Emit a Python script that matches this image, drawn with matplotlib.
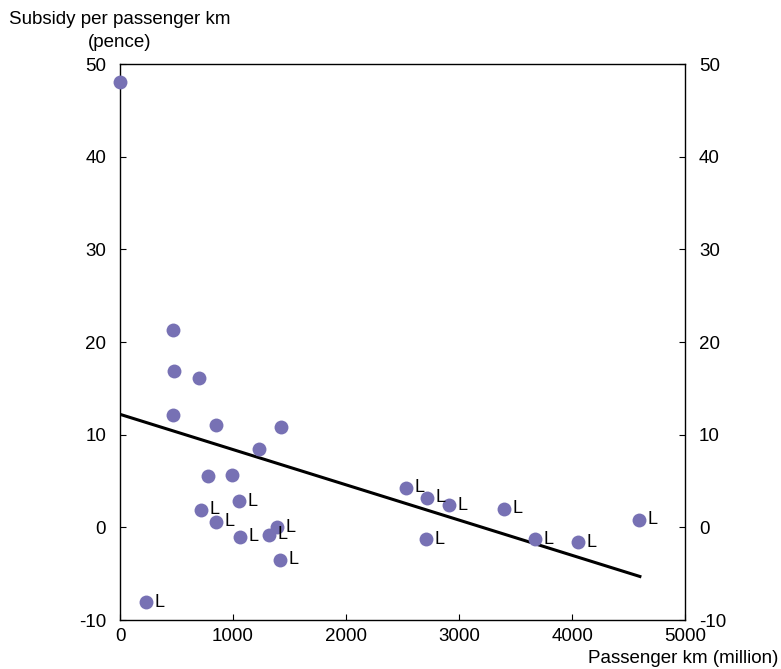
import matplotlib
matplotlib.use("Agg")
from matplotlib import pyplot as plt

plt.rcParams['font.family'] = ['Liberation Sans', 'DejaVu Sans']
plt.rcParams['axes.unicode_minus'] = False

# passenger km (million), subsidy (pence), London flag
passengerKm = [0, 469, 478, 699, 469, 850, 1425, 1230, 779, 991,
               1053, 717, 850, 1062, 1389, 1319, 1416, 230,
               2531, 2717, 2912, 3398, 2708, 3673, 4053, 4593]
subsidy = [48.1, 21.3, 16.9, 16.1, 12.1, 11.0, 10.8, 8.5, 5.5, 5.7,
           2.8, 1.9, 0.6, -1.0, 0.0, -0.8, -3.5, -8.1,
           4.3, 3.2, 2.4, 2.0, -1.3, -1.3, -1.6, 0.8]
isLondon = [False] * 10 + [True] * 16

trendX = [0, 4600]
trendY = [12.2, -5.3]

fig = plt.figure(figsize=(7.81, 6.69), dpi=100)
ax = fig.add_axes([0.1537, 0.0732, 0.7235, 0.831])

ax.plot(trendX, trendY, color="black", linewidth=2.2, zorder=2)
ax.plot(passengerKm, subsidy, "o", color="#7771b4", markersize=10,
        markeredgewidth=0, zorder=3, clip_on=False)

for x, y, lon in zip(passengerKm, subsidy, isLondon):
    if lon:
        ax.annotate("L", (x, y), xytext=(6, 0), textcoords="offset points",
                    fontsize=13, va="center", ha="left")

ax.set_xlim(0, 5000)
ax.set_ylim(-10, 50)
ax.set_xticks(range(0, 5001, 1000))
ax.set_yticks(range(-10, 51, 10))
ax.tick_params(direction="in", length=4, labelsize=13.5, width=0.8)
ax.tick_params(axis="y", left=True, right=True, labelleft=True, labelright=True)
ax.tick_params(axis="y", pad=10)
ax.tick_params(axis="x", pad=6)
for s in ax.spines.values():
    s.set_linewidth(1)

fig.text(0.1537, 0.971, "Subsidy per passenger km", ha="center", va="center", fontsize=13.5)
fig.text(0.1537, 0.937, "(pence)", ha="center", va="center", fontsize=13.5)
fig.text(0.997, 0.016, "Passenger km (million)", ha="right", va="center", fontsize=13.5)

fig.savefig("out.png", dpi=100)
